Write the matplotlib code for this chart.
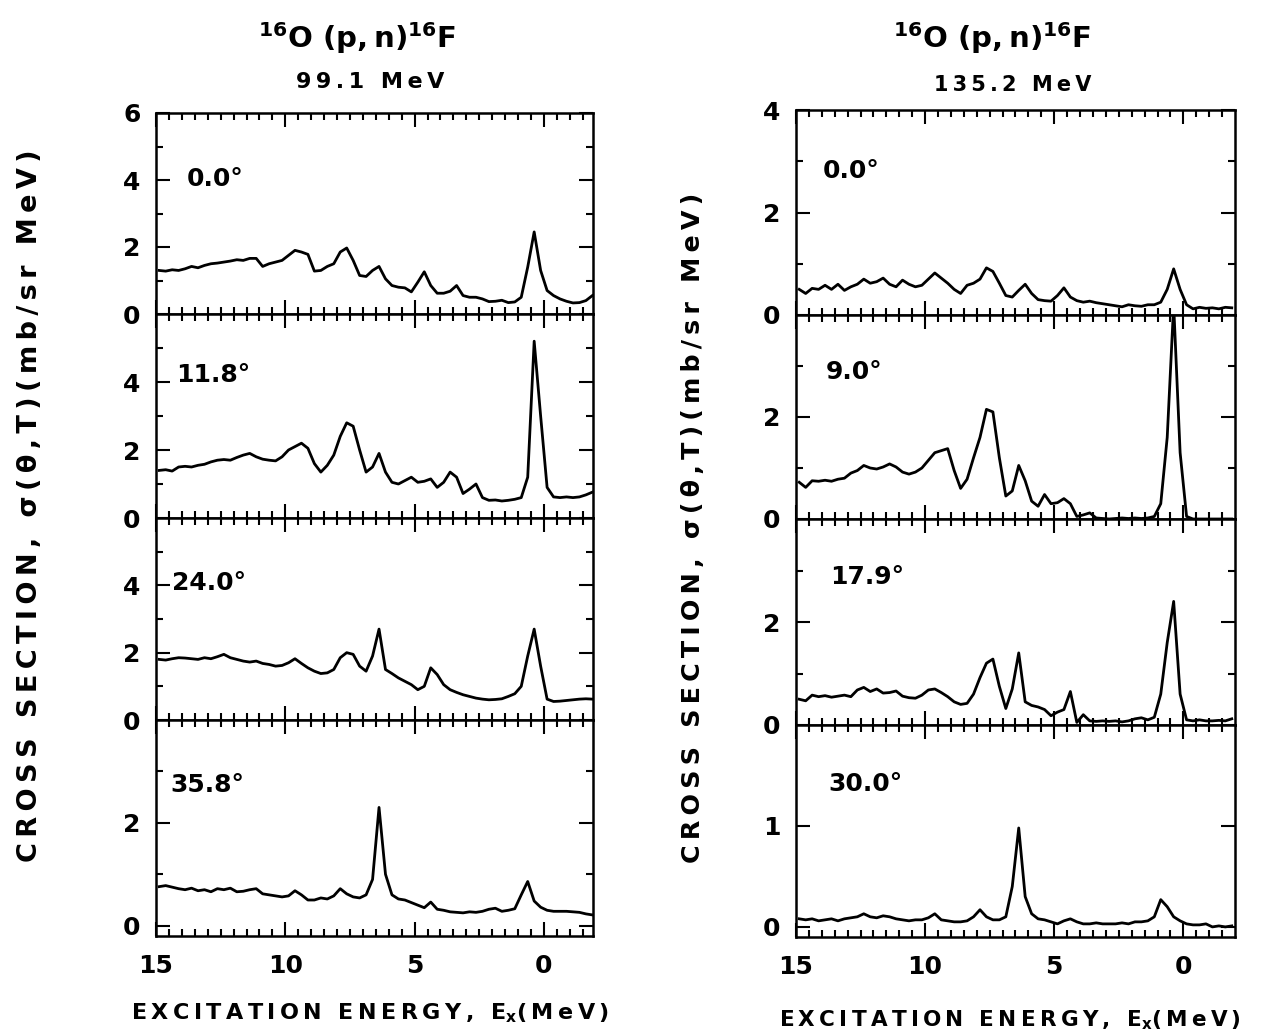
import numpy as np
import matplotlib
matplotlib.use("Agg")
import matplotlib.pyplot as plt

plt.rcParams["font.family"] = ["DejaVu Sans"]
plt.rcParams["font.weight"] = "bold"
plt.rcParams["mathtext.fontset"] = "custom"
plt.rcParams["mathtext.bf"] = "DejaVu Sans:bold"
plt.rcParams["mathtext.rm"] = "DejaVu Sans:bold"
plt.rcParams["mathtext.default"] = "bf"

# energy bins (MeV), 0.25 MeV wide, from 15 down to -2
energy_edges = 15 - 0.25 * np.arange(69)
energy = (energy_edges[:-1] + energy_edges[1:]) / 2

# 99.1 MeV spectra, values per bin from E=15 downward (mb/sr MeV)
l_00 = [1.30, 1.28, 1.32, 1.30, 1.35, 1.42, 1.38, 1.45, 1.50, 1.52, 1.55, 1.58,
        1.62, 1.60, 1.66, 1.66, 1.42, 1.50, 1.55, 1.60, 1.75, 1.90, 1.85, 1.78,
        1.28, 1.30, 1.42, 1.50, 1.85, 1.97, 1.60, 1.15, 1.12, 1.30, 1.42, 1.05,
        0.85, 0.80, 0.78, 0.66, 0.95, 1.26, 0.85, 0.62, 0.62, 0.68, 0.85, 0.55,
        0.50, 0.50, 0.45, 0.37, 0.38, 0.41, 0.34, 0.36, 0.50, 1.40, 2.45, 1.30,
        0.70, 0.55, 0.45, 0.38, 0.33, 0.34, 0.40, 0.55]
l_118 = [1.40, 1.42, 1.38, 1.50, 1.52, 1.50, 1.55, 1.58, 1.65, 1.70, 1.72, 1.70,
         1.78, 1.85, 1.90, 1.80, 1.73, 1.70, 1.68, 1.80, 2.00, 2.10, 2.20, 2.05,
         1.60, 1.35, 1.55, 1.85, 2.40, 2.80, 2.70, 2.00, 1.35, 1.50, 1.90, 1.35,
         1.05, 1.00, 1.10, 1.20, 1.05, 1.08, 1.15, 0.90, 1.05, 1.35, 1.20, 0.72,
         0.85, 1.00, 0.60, 0.52, 0.53, 0.50, 0.52, 0.55, 0.60, 1.20, 5.20, 3.00,
         0.90, 0.62, 0.60, 0.62, 0.60, 0.62, 0.68, 0.76]
l_240 = [1.80, 1.78, 1.82, 1.85, 1.84, 1.82, 1.80, 1.85, 1.82, 1.88, 1.95, 1.85,
         1.80, 1.75, 1.72, 1.75, 1.68, 1.65, 1.60, 1.62, 1.70, 1.82, 1.68, 1.55,
         1.45, 1.38, 1.40, 1.50, 1.85, 2.00, 1.95, 1.60, 1.45, 1.90, 2.70, 1.50,
         1.38, 1.25, 1.15, 1.05, 0.90, 1.00, 1.55, 1.35, 1.05, 0.90, 0.82, 0.75,
         0.70, 0.65, 0.62, 0.60, 0.61, 0.63, 0.70, 0.78, 1.00, 1.90, 2.70, 1.60,
         0.62, 0.55, 0.56, 0.58, 0.60, 0.62, 0.63, 0.62]
l_358 = [0.76, 0.78, 0.75, 0.72, 0.70, 0.73, 0.68, 0.70, 0.66, 0.72, 0.70, 0.73,
         0.66, 0.67, 0.70, 0.72, 0.62, 0.60, 0.58, 0.56, 0.58, 0.68, 0.60, 0.50,
         0.50, 0.54, 0.52, 0.58, 0.72, 0.62, 0.56, 0.54, 0.60, 0.90, 2.30, 1.00,
         0.60, 0.52, 0.50, 0.45, 0.40, 0.35, 0.46, 0.32, 0.30, 0.27, 0.26, 0.25,
         0.27, 0.26, 0.28, 0.32, 0.34, 0.28, 0.30, 0.33, 0.60, 0.86, 0.48, 0.36,
         0.30, 0.28, 0.28, 0.28, 0.27, 0.26, 0.23, 0.21]

# 135.2 MeV spectra
r_00 = [0.50, 0.42, 0.52, 0.50, 0.58, 0.50, 0.60, 0.48, 0.55, 0.60, 0.70, 0.62,
        0.65, 0.72, 0.60, 0.55, 0.68, 0.60, 0.55, 0.58, 0.70, 0.82, 0.72, 0.62,
        0.50, 0.42, 0.58, 0.62, 0.70, 0.92, 0.85, 0.62, 0.38, 0.35, 0.48, 0.60,
        0.42, 0.30, 0.28, 0.27, 0.38, 0.53, 0.35, 0.28, 0.25, 0.27, 0.24, 0.22,
        0.20, 0.18, 0.16, 0.20, 0.18, 0.17, 0.20, 0.20, 0.25, 0.50, 0.90, 0.50,
        0.20, 0.12, 0.15, 0.13, 0.14, 0.12, 0.15, 0.14]
r_90 = [0.72, 0.62, 0.75, 0.74, 0.76, 0.74, 0.78, 0.80, 0.90, 0.95, 1.05, 1.00,
        0.98, 1.02, 1.08, 1.02, 0.92, 0.88, 0.92, 1.00, 1.15, 1.30, 1.34, 1.38,
        0.95, 0.60, 0.78, 1.20, 1.60, 2.15, 2.10, 1.20, 0.45, 0.55, 1.05, 0.75,
        0.35, 0.25, 0.48, 0.30, 0.32, 0.40, 0.30, 0.05, 0.08, 0.12, 0.02, 0.01,
        0.00, 0.01, 0.02, 0.01, 0.02, 0.01, 0.02, 0.05, 0.30, 1.60, 4.20, 1.30,
        0.05, 0.00, 0.00, 0.00, 0.00, 0.00, 0.00, 0.00]
r_179 = [0.50, 0.47, 0.58, 0.55, 0.57, 0.54, 0.56, 0.58, 0.55, 0.68, 0.73, 0.65,
         0.70, 0.62, 0.63, 0.66, 0.56, 0.53, 0.52, 0.58, 0.68, 0.70, 0.63, 0.55,
         0.45, 0.40, 0.42, 0.60, 0.92, 1.20, 1.28, 0.75, 0.32, 0.70, 1.40, 0.45,
         0.38, 0.35, 0.30, 0.18, 0.25, 0.30, 0.65, 0.05, 0.20, 0.08, 0.07, 0.08,
         0.07, 0.08, 0.06, 0.08, 0.12, 0.14, 0.10, 0.15, 0.60, 1.60, 2.40, 0.60,
         0.10, 0.08, 0.10, 0.08, 0.08, 0.09, 0.08, 0.12]
r_300 = [0.08, 0.07, 0.08, 0.06, 0.07, 0.08, 0.06, 0.08, 0.09, 0.10, 0.13, 0.10,
         0.09, 0.11, 0.10, 0.08, 0.07, 0.06, 0.07, 0.07, 0.09, 0.13, 0.07, 0.06,
         0.05, 0.05, 0.06, 0.10, 0.17, 0.10, 0.07, 0.07, 0.10, 0.40, 0.98, 0.30,
         0.13, 0.08, 0.07, 0.05, 0.03, 0.06, 0.08, 0.05, 0.03, 0.03, 0.04, 0.03,
         0.03, 0.03, 0.04, 0.03, 0.05, 0.05, 0.06, 0.10, 0.27, 0.20, 0.10, 0.06,
         0.03, 0.02, 0.02, 0.03, 0.00, 0.01, 0.00, 0.01]

left_angles = ["0.0°", "11.8°", "24.0°", "35.8°"]
right_angles = ["0.0°", "9.0°", "17.9°", "30.0°"]
left_spectra = [l_00, l_118, l_240, l_358]
right_spectra = [r_00, r_90, r_179, r_300]

W, H = 1264, 1036
fig = plt.figure(figsize=(W / 100, H / 100), dpi=100)


def rect(x0, x1, ytop, ybot):
    return [x0 / W, 1 - ybot / H, (x1 - x0) / W, (ybot - ytop) / H]


def spaced(s):
    # wide letter spacing like the original lettering
    return "\u2009".join(s)


def panel(box, vals, ylim, major, minor, angle, txt_xy, xlim, bottom):
    ax = fig.add_axes(box)
    ax.plot(energy, vals, color="black", lw=2.0)
    ax.set_xlim(*xlim)
    ax.set_ylim(*ylim)
    ax.set_xticks([15, 10, 5, 0])
    ax.set_xticks(np.arange(-1.5, 15.01, 0.5), minor=True)
    ax.set_yticks(major)
    ax.set_yticks(minor, minor=True)
    ax.set_yticklabels([str(m) for m in major], fontsize=18, fontweight="bold")
    if bottom:
        ax.set_xticklabels(["15", "10", "5", "0"], fontsize=18, fontweight="bold")
    else:
        ax.set_xticklabels([])
    ax.tick_params(which="both", direction="in", top=True, right=True, width=1.5)
    ax.tick_params(which="major", length=10)
    ax.tick_params(which="minor", length=5)
    ax.tick_params(axis="y", pad=11)
    ax.tick_params(axis="x", pad=13)
    for s in ax.spines.values():
        s.set_linewidth(1.8)
    ax.text(txt_xy[0], txt_xy[1], angle, transform=ax.transAxes,
            fontsize=18, fontweight="bold", va="center", ha="left")
    return ax


left_rows = [(113, 314), (314, 518), (518, 720), (720, 936)]
right_rows = [(110, 315), (315, 519), (519, 725), (725, 937)]
left_ylims = [(0, 6), (0, 6), (0, 6), (-0.2, 4.0)]
right_ylims = [(0, 4), (0, 4), (0, 4), (-0.1, 2.0)]
left_major = [[0, 2, 4, 6], [0, 2, 4], [0, 2, 4], [0, 2]]
left_minor = [[1, 3, 5], [1, 3, 5], [1, 3, 5], [1, 3]]
right_major = [[0, 2, 4], [0, 2], [0, 2], [0, 1]]
right_minor = [[1, 3], [1, 3], [1, 3], []]
left_txt = [(0.07, 0.67), (0.045, 0.70), (0.037, 0.68), (0.032, 0.70)]
right_txt = [(0.06, 0.70), (0.068, 0.72), (0.078, 0.72), (0.073, 0.72)]

for i in range(4):
    panel(rect(156, 593, *left_rows[i]), left_spectra[i], left_ylims[i],
          left_major[i], left_minor[i], left_angles[i], left_txt[i],
          (15, -1.9), i == 3)
    panel(rect(796, 1235, *right_rows[i]), right_spectra[i], right_ylims[i],
          right_major[i], right_minor[i], right_angles[i], right_txt[i],
          (15, -2.0), i == 3)

title = r"$^{16}$" + "O (p,\u2009n)" + r"$^{16}$F"
fig.text(357 / W, 1 - 38 / H, title, fontsize=21, fontweight="bold", ha="center", va="center")
fig.text(370 / W, 1 - 82 / H, spaced("99.1 MeV"), fontsize=16, fontweight="bold", ha="center", va="center")
fig.text(992 / W, 1 - 38 / H, title, fontsize=21, fontweight="bold", ha="center", va="center")
fig.text(1013 / W, 1 - 85 / H, spaced("135.2 MeV"), fontsize=15, fontweight="bold", ha="center", va="center")

xlab = spaced("EXCITATION ENERGY, E") + r"$_{x}$" + spaced("(MeV)")
fig.text(370 / W, 1 - 1013 / H, xlab, fontsize=16, fontweight="bold", ha="center", va="center")
fig.text(1010 / W, 1 - 1020 / H, xlab, fontsize=15.5, fontweight="bold", ha="center", va="center")

ylab = spaced("CROSS SECTION, σ(θ,T)(mb/sr MeV)")
fig.text(30 / W, 1 - 506 / H, ylab, fontsize=19.5, fontweight="bold", rotation=90,
         ha="center", va="center")
fig.text(693 / W, 1 - 528 / H, ylab, fontsize=18.3, fontweight="bold", rotation=90,
         ha="center", va="center")

fig.savefig("out.png", dpi=100)
